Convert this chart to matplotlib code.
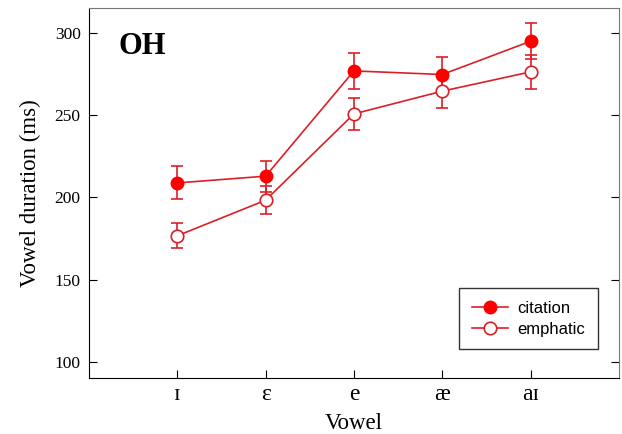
import matplotlib

matplotlib.use("Agg")
import matplotlib.pyplot as plt
from matplotlib.lines import Line2D

vowels = ["ɪ", "ɛ", "e", "æ", "aɪ"]
citation = [208.7, 212.8, 276.7, 274.5, 294.7]
citation_err = [10.0, 9.5, 10.8, 10.5, 11.0]
emphatic = [176.6, 198.2, 250.6, 264.4, 276.1]
emphatic_err = [7.7, 8.5, 9.9, 10.3, 10.5]

serif = ["Liberation Serif", "DejaVu Serif"]
line_col = "#dc1f26"
fill_col = "#ff0000"

fig = plt.figure(figsize=(6.22, 4.34), dpi=100)
ax = fig.add_axes([0.143, 0.128, 0.852, 0.854])

x = list(range(1, len(vowels) + 1))
ax.errorbar(x, citation, yerr=citation_err, color=line_col, lw=1.2,
            marker="o", ms=9, mfc=fill_col, mec=fill_col,
            capsize=4.5, capthick=1.2, elinewidth=1.2)
ax.errorbar(x, emphatic, yerr=emphatic_err, color=line_col, lw=1.2,
            marker="o", ms=9, mfc="white", mec=line_col, mew=1.2,
            capsize=4.5, capthick=1.2, elinewidth=1.2)

ax.set_xlim(0, 6)
ax.set_ylim(90, 315)
ax.set_xticks(x)
ax.set_xticklabels(vowels, family=serif, fontsize=17)
ax.set_yticks([100, 150, 200, 250, 300])
ax.set_yticklabels(["100", "150", "200", "250", "300"], family=serif, fontsize=12.5)
ax.tick_params(axis="y", direction="in", length=6, left=True, right=True, pad=6)
ax.tick_params(axis="x", direction="in", length=6, top=False, pad=4)

ax.set_xlabel("Vowel", family=serif, fontsize=16.5, labelpad=6)
ax.set_ylabel("Vowel duration (ms)", family=serif, fontsize=16.5, labelpad=10)

for side in ["top", "right"]:
    ax.spines[side].set_color("#777777")

ax.text(0.055, 0.935, "OH", transform=ax.transAxes, family=serif,
        fontsize=22, fontweight="bold", va="top", ha="left")

handles = [
    Line2D([], [], color=line_col, lw=1.2, marker="o", ms=9,
           mfc=fill_col, mec=fill_col),
    Line2D([], [], color=line_col, lw=1.2, marker="o", ms=9,
           mfc="white", mec=line_col, mew=1.2),
]
leg = ax.legend(handles, ["citation", "emphatic"], loc="lower right",
                bbox_to_anchor=(0.96, 0.079), borderaxespad=0,
                prop={"family": "Liberation Sans", "size": 12},
                fancybox=False, edgecolor="#333333", framealpha=1,
                handlelength=2.2, borderpad=0.75, labelspacing=0.35,
                handletextpad=0.55)
leg.get_frame().set_linewidth(1.0)

fig.savefig("out.png", dpi=100)
